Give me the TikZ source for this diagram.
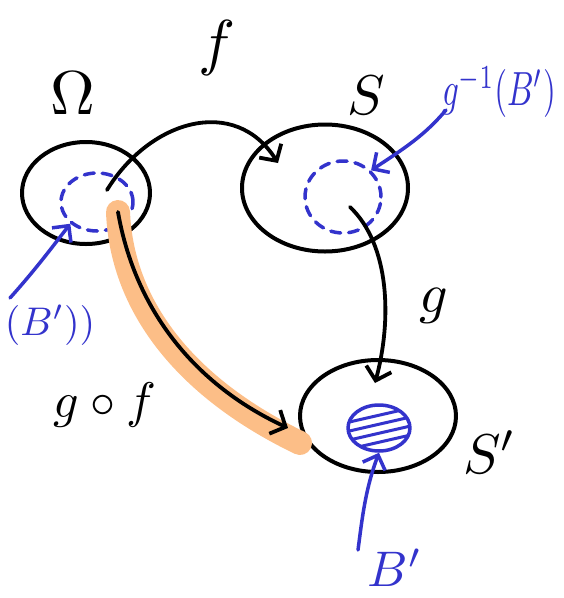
\documentclass[tikz,border=0pt]{standalone}
\usetikzlibrary{shapes.geometric,arrows.meta}
\definecolor{pen}{RGB}{51,51,204}
\definecolor{hl}{RGB}{252,190,135}
\begin{document}
\begin{tikzpicture}[x=1pt,y=-1pt,line cap=round,line join=round,
  set/.style={draw,ellipse,line width=4pt,inner sep=0pt},
  sub/.style={draw=pen,ellipse,dash pattern=on 10pt off 8pt,line width=3.5pt,inner sep=0pt},
  map/.style={line width=3.8pt,-{Straight Barb[length=12pt,width=26pt,line width=3.8pt]}},
  ptr/.style={pen,line width=3.5pt,-{Straight Barb[length=12pt,width=24pt,line width=3.5pt]}},
  lbl/.style={inner sep=0pt},
  blbl/.style={pen,inner sep=0pt}]
\useasboundingbox (0,0) rectangle (564,598);
% sets
\node[set,minimum width=128pt,minimum height=102pt] (Om) at (86,193) {};
\node[set,minimum width=166pt,minimum height=127pt] (S) at (325,188) {};
\node[set,minimum width=156pt,minimum height=112pt] (Sp) at (378,416) {};
% subsets
\node[sub,minimum width=72pt,minimum height=58pt] (A) at (97,202) {};
\node[sub,minimum width=76pt,minimum height=72pt] (gB) at (343,197) {};
\node[draw=pen,ellipse,line width=3.5pt,minimum width=62pt,minimum height=46pt,inner sep=0pt] (Bp) at (379,428) {};
\begin{scope}
  \clip (379,428) ellipse (30pt and 22pt);
  \foreach \d in {-13,-4,5,14}
    \draw[pen,line width=3pt] (345,428+\d+8) -- (415,428+\d-8);
\end{scope}
% coordinates for connector ends
\coordinate (fs) at (107,190);
\coordinate (fe) at (278,163);
\coordinate (gs) at (350,207);
\coordinate (ge) at (375,383);
\coordinate (hs) at (118,212);
\coordinate (he) at (288,428);
\coordinate (he2) at (300,443);
% highlight
\draw[hl,line width=24pt] (hs) .. controls (122,310) and (190,390) .. (he2);
% maps
\draw[map] (fs) .. controls (150,120) and (235,95) .. (fe);
\draw[map] (gs) .. controls (390,245) and (392,320) .. (ge);
\draw[map] (hs) .. controls (135,310) and (195,385) .. (he);
% labels
\node[lbl,scale=6.2] (LOm) at (73,93) {$\Omega$};
\node[lbl,scale=6.2] (Lf) at (217,48) {$f$};
\node[lbl,scale=5.6] (LS) at (366,95) {$S$};
\node[lbl,scale=5.6] (Lg) at (434,306) {$g$};
\node[lbl,scale=5] (Lgf) at (105,405) {$g\circ f$};
\node[lbl,scale=5.6] (LSp) at (490,452) {$S'$};
\node[blbl,xscale=3.3,yscale=4.8] (LgB) at (499,92) {$g^{-1}(B')$};
\node[blbl,scale=5] (LB) at (395,568) {$B'$};
\node[blbl,scale=4] (LA) at (50,325) {$(B'))$};
% pointers
\coordinate (p1) at (10,298);
\coordinate (p2) at (446,110);
\coordinate (p3) at (358,550);
\draw[ptr] (p1) .. controls (35,270) and (50,250) .. (A.south west);
\draw[ptr] (p2) .. controls (425,135) and (405,148) .. (gB.north east);
\draw[ptr] (p3) .. controls (362,520) and (365,490) .. (Bp.south);
\end{tikzpicture}
\end{document}
